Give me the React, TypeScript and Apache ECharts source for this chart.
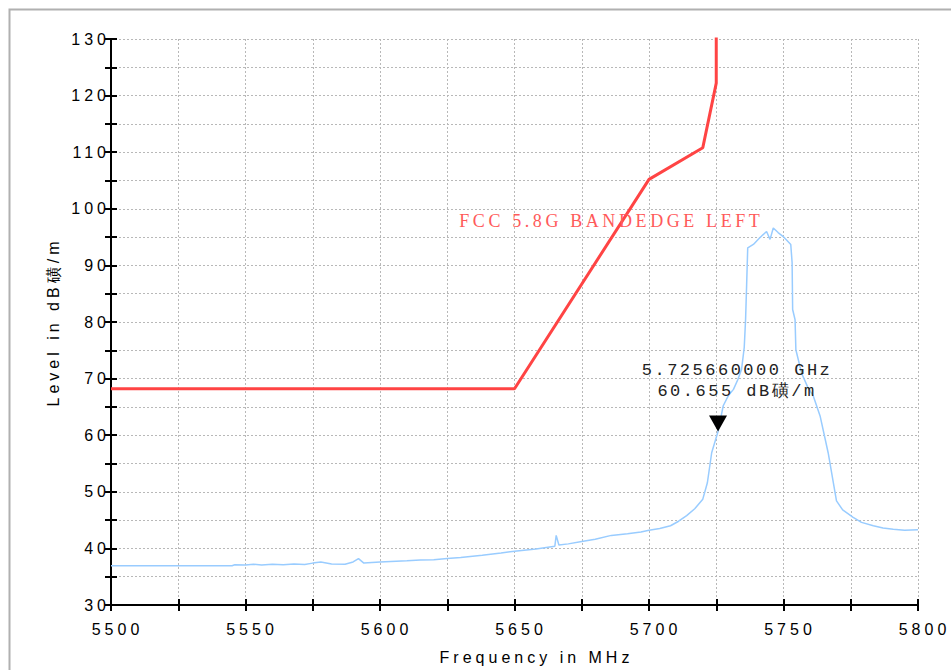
import React, { useEffect, useRef } from 'react';
import * as echarts from 'echarts';

// ---- data ----
const limitName = 'FCC 5.8G BANDEDGE LEFT';
const limitFreq = [5500, 5650, 5700, 5720, 5725, 5725];
const limitLevel = [68.2, 68.2, 105.2, 110.8, 122.2, 135];

const traceFreq = [
  5500, 5520, 5545, 5546, 5550, 5553, 5556, 5560, 5564, 5568, 5572, 5575, 5578,
  5582, 5587, 5590, 5592, 5594, 5600, 5610, 5615, 5620, 5625, 5630, 5638, 5645,
  5650, 5658, 5665, 5665.5, 5666.5, 5670, 5675, 5680, 5686, 5692, 5697, 5700,
  5704, 5708, 5711, 5714, 5717, 5720, 5721.7, 5723.3, 5725.66, 5727.6, 5729.5,
  5731.4, 5733, 5734.4, 5735.4, 5735.9, 5736.3, 5736.7, 5738.8, 5741, 5743.7,
  5745, 5746.2, 5748, 5749.9, 5752.7, 5753.2, 5753.4, 5754.3, 5754.6, 5756.7,
  5759, 5761.1, 5763.6, 5766.6, 5769.7, 5772, 5775.9, 5779, 5783.4, 5787,
  5790.8, 5795, 5800,
];
const traceLevel = [
  36.95, 36.95, 36.95, 37.1, 37.05, 37.2, 37.05, 37.2, 37.1, 37.25, 37.15, 37.4, 37.6,
  37.25, 37.2, 37.6, 38.2, 37.4, 37.6, 37.8, 37.95, 38.0, 38.2, 38.4, 38.8, 39.2,
  39.5, 39.9, 40.4, 42.3, 40.6, 40.8, 41.2, 41.6, 42.3, 42.6, 42.9, 43.2,
  43.5, 44.0, 44.8, 45.8, 47.0, 48.7, 51.6, 56.9, 60.655, 65.2, 67.0,
  68.1, 69.8, 71.6, 75.5, 80.4, 86.6, 93.1, 93.7, 94.8, 96.0,
  94.6, 96.6, 95.8, 95.1, 93.7, 90.5, 82.2, 80.4, 75.1, 71.0,
  68.5, 66.9, 63.4, 56.9, 48.4, 46.8, 45.5, 44.6, 44.0, 43.6,
  43.4, 43.2, 43.3,
];

const markerFreq = 5725.66;
const markerLevel = 60.655;
const markerLines = ['5.725660000 GHz', '60.655 dB磺/m'];

const xMin = 5500, xMax = 5800, xTickStep = 25, xLabelStep = 50;
const yMin = 30, yMax = 130, yTickStep = 5, yLabelStep = 10;
const xAxisName = 'Frequency in MHz';
const yAxisName = 'Level in dB磺/m';

export default function App() {
  const ref = useRef<HTMLDivElement>(null);

  useEffect(() => {
    const el = ref.current!;
    const chart = echarts.init(el, null, { renderer: 'svg' });
    const sans = 'Liberation Sans, Arial, sans-serif';
    const axisCommonX = {
      type: 'value' as const,
      min: xMin, max: xMax, interval: xTickStep,
      position: 'bottom' as const,
      axisLine: { show: true, onZero: false, lineStyle: { color: '#000', width: 2 } },
    };
    const axisCommonY = {
      type: 'value' as const,
      min: yMin, max: yMax, interval: yTickStep,
      position: 'left' as const,
      axisLine: { show: true, onZero: false, lineStyle: { color: '#000', width: 2 } },
    };
    chart.setOption({
      animation: false,
      backgroundColor: '#fff',
      grid: { left: 111, right: 33, top: 39, bottom: 64, containLabel: false },
      graphic: [
        {
          type: 'rect', silent: true,
          shape: { x: 9.5, y: 9.5, width: 1200, height: 1200 },
          style: { fill: 'none', stroke: '#b0b0b0', lineWidth: 2 },
        },
      ],
      xAxis: [
        {
          ...axisCommonX,
          name: xAxisName,
          nameLocation: 'middle',
          nameGap: 44,
          nameTextStyle: { fontFamily: sans, fontSize: 16, color: '#000', padding: [0, 0, 0, 44] },
          axisTick: { show: true, inside: false, length: 6, lineStyle: { color: '#000', width: 2 } },
          axisLabel: {
            margin: 16, fontFamily: sans, fontSize: 16, color: '#000',
            padding: [0, 0, 0, 13],
            formatter: (v: number) => (v % xLabelStep === 0 ? String(v) : ''),
          },
          splitLine: { show: true, lineStyle: { color: '#b8b8b8', width: 1, type: [2, 2] } },
        },
        {
          ...axisCommonX,
          axisTick: { show: true, inside: true, length: 6, lineStyle: { color: '#000', width: 2 } },
          axisLabel: { show: false },
          splitLine: { show: false },
        },
      ],
      yAxis: [
        {
          ...axisCommonY,
          name: yAxisName,
          nameLocation: 'middle',
          nameGap: 50,
          nameTextStyle: { fontFamily: sans, fontSize: 16, color: '#000' },
          axisTick: { show: true, inside: false, length: 6, lineStyle: { color: '#000', width: 2 } },
          axisLabel: {
            margin: 1, fontFamily: sans, fontSize: 16, color: '#000',
            padding: [4, 0, 0, 0],
            formatter: (v: number) => (v % yLabelStep === 0 ? String(v) : ''),
          },
          splitLine: { show: true, lineStyle: { color: '#b8b8b8', width: 1, type: [2, 2] } },
        },
        {
          ...axisCommonY,
          axisTick: { show: true, inside: true, length: 6, lineStyle: { color: '#000', width: 2 } },
          axisLabel: { show: false },
          splitLine: { show: false },
        },
      ],
      series: [
        {
          type: 'line',
          name: 'trace',
          xAxisIndex: 0, yAxisIndex: 0,
          data: traceFreq.map((f, i) => [f, traceLevel[i]]),
          showSymbol: false,
          silent: true,
          z: 2,
          lineStyle: { color: '#99ccff', width: 1.5 },
          markPoint: {
            silent: true,
            data: [
              {
                coord: [markerFreq, markerLevel],
                symbol: 'path://M0,0L18,0L9,16Z',
                symbolSize: [18, 16],
                symbolOffset: [0, -8],
                itemStyle: { color: '#000' },
                label: { show: false },
              },
              {
                coord: [markerFreq, markerLevel],
                symbol: 'circle',
                symbolSize: 0,
                itemStyle: { color: 'transparent' },
                label: {
                  show: true,
                  position: 'inside',
                  offset: [19, -50],
                  formatter: markerLines.join('\n'),
                  fontFamily: 'Liberation Mono, monospace',
                  fontSize: 17,
                  lineHeight: 21,
                  color: '#222',
                  align: 'center',
                },
              },
            ],
          },
        },
        {
          type: 'line',
          name: limitName,
          xAxisIndex: 0, yAxisIndex: 0,
          data: limitFreq.map((f, i) => [f, limitLevel[i]]),
          showSymbol: false,
          silent: true,
          clip: true,
          z: 3,
          lineStyle: { color: '#ff4444', width: 3 },
          markPoint: {
            silent: true,
            data: [
              {
                coord: [5686, 97.9],
                symbol: 'circle',
                symbolSize: 0,
                itemStyle: { color: 'transparent' },
                label: {
                  show: true,
                  position: 'inside',
                  formatter: limitName,
                  fontFamily: 'Liberation Serif, Times New Roman, serif',
                  fontSize: 18,
                  color: '#ff5a5a',
                },
              },
            ],
          },
        },
      ],
    });

    const applySpacing = () => {
      el.querySelectorAll('text').forEach((t) => {
        const s = t.textContent || '';
        let ls = '4px';
        if (s.startsWith('FCC')) ls = '3.6px';
        else if (markerLines.indexOf(s) >= 0) ls = '2.5px';
        (t as SVGTextElement).style.letterSpacing = ls;
      });
    };
    applySpacing();
    chart.on('finished', applySpacing);

    return () => {
      chart.dispose();
    };
  }, []);

  return (
    <div
      ref={ref}
      style={{ position: 'absolute', left: 0, top: 0, width: 951, height: 670, background: '#fff' }}
    />
  );
}
